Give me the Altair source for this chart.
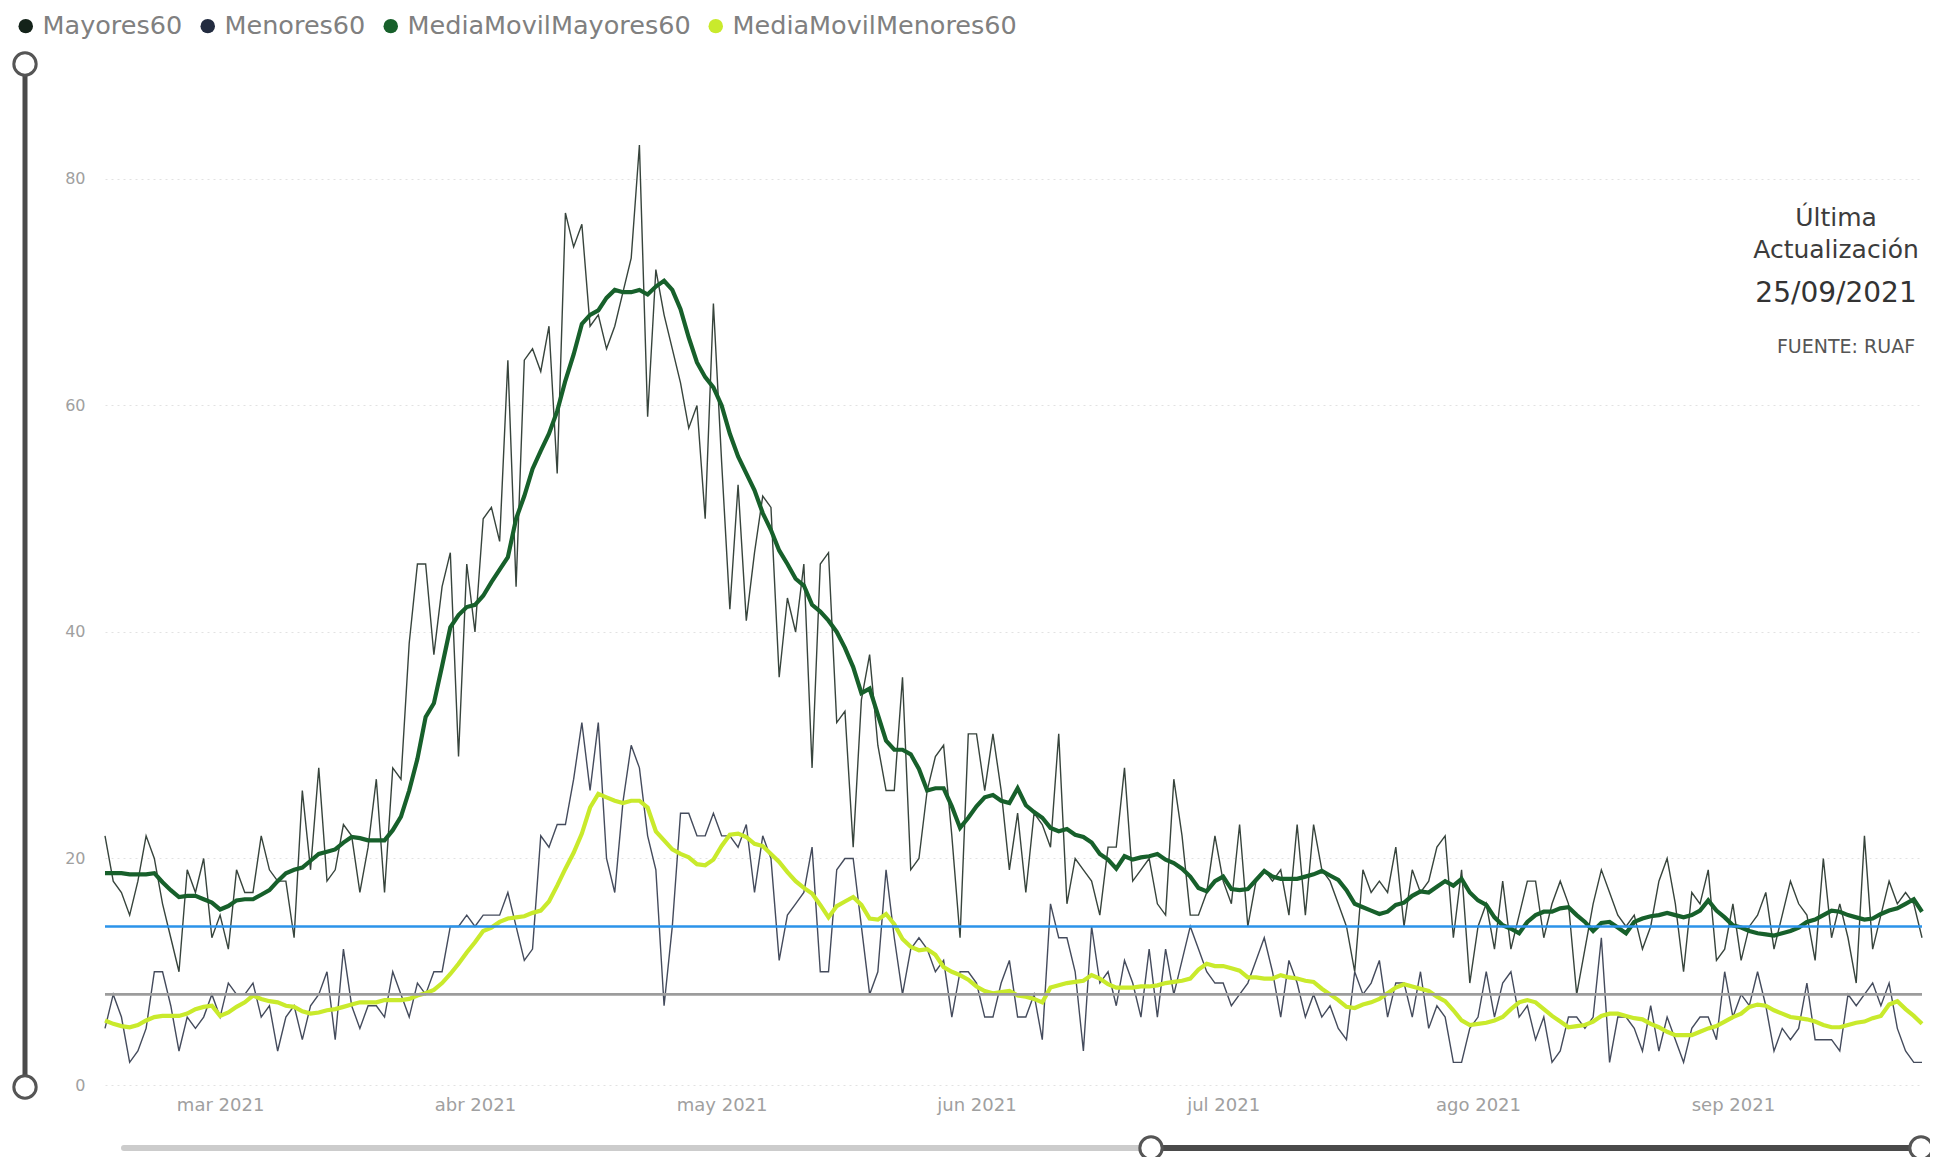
import altair as alt
import pandas as pd

# ---------------- data ----------------
start_date = "2021-02-15"

mayores60 = [22, 18, 17, 15, 18, 22, 20, 16, 13, 10,
             19, 17, 20, 13, 15, 12, 19, 17, 17, 22,
             19, 18, 18, 13, 26, 19, 28, 18, 19, 23,
             22, 17, 21, 27, 17, 28, 27, 39, 46, 46,
             38, 44, 47, 29, 46, 40, 50, 51, 48, 64,
             44, 64, 65, 63, 67, 54, 77, 74, 76, 67,
             68, 65, 67, 70, 73, 83, 59, 72, 68, 65,
             62, 58, 60, 50, 69, 55, 42, 53, 41, 47,
             52, 51, 36, 43, 40, 46, 28, 46, 47, 32,
             33, 21, 34, 38, 30, 26, 26, 36, 19, 20,
             26, 29, 30, 22, 13, 31, 31, 26, 31, 26,
             19, 24, 17, 24, 23, 21, 31, 16, 20, 19,
             18, 15, 21, 21, 28, 18, 19, 20, 16, 15,
             27, 22, 15, 15, 17, 22, 18, 16, 23, 14,
             18, 19, 18, 19, 15, 23, 15, 23, 19, 18,
             16, 14, 10, 19, 17, 18, 17, 21, 14, 19,
             17, 18, 21, 22, 13, 19, 9, 14, 16, 12,
             18, 12, 15, 18, 18, 13, 16, 18, 16, 8,
             12, 16, 19, 17, 15, 14, 15, 12, 14, 18,
             20, 16, 10, 17, 16, 19, 11, 12, 16, 11,
             14, 15, 17, 12, 15, 18, 16, 15, 11, 20,
             13, 16, 13, 9, 22, 12, 15, 18, 16, 17,
             16, 13]

menores60 = [5, 8, 6, 2, 3, 5, 10, 10, 7, 3,
             6, 5, 6, 8, 6, 9, 8, 8, 9, 6,
             7, 3, 6, 7, 4, 7, 8, 10, 4, 12,
             7, 5, 7, 7, 6, 10, 8, 6, 9, 8,
             10, 10, 14, 14, 15, 14, 15, 15, 15, 17,
             14, 11, 12, 22, 21, 23, 23, 27, 32, 26,
             32, 20, 17, 25, 30, 28, 22, 19, 7, 14,
             24, 24, 22, 22, 24, 22, 22, 21, 23, 17,
             22, 20, 11, 15, 16, 17, 21, 10, 10, 19,
             20, 20, 14, 8, 10, 19, 13, 8, 12, 13,
             12, 10, 11, 6, 10, 10, 9, 6, 6, 9,
             11, 6, 6, 8, 4, 16, 13, 13, 10, 3,
             14, 9, 10, 7, 11, 9, 6, 12, 6, 12,
             8, 11, 14, 12, 10, 9, 9, 7, 8, 9,
             11, 13, 10, 6, 11, 9, 6, 8, 6, 7,
             5, 4, 10, 8, 9, 11, 6, 9, 9, 6,
             10, 5, 7, 6, 2, 2, 5, 6, 10, 6,
             9, 10, 6, 7, 4, 6, 2, 3, 6, 6,
             5, 6, 13, 2, 6, 6, 5, 3, 7, 3,
             6, 4, 2, 5, 6, 6, 4, 10, 6, 8,
             7, 10, 7, 3, 5, 4, 5, 9, 4, 4,
             4, 3, 8, 7, 8, 9, 7, 9, 5, 3,
             2, 2]

media_movil_mayores60 = [18.7, 18.7, 18.7, 18.6, 18.6, 18.6, 18.7, 17.9, 17.2, 16.6,
                         16.7, 16.7, 16.4, 16.1, 15.5, 15.8, 16.3, 16.4, 16.4, 16.8,
                         17.2, 18.0, 18.7, 19.0, 19.2, 19.8, 20.4, 20.6, 20.8, 21.4,
                         21.9, 21.8, 21.6, 21.6, 21.6, 22.5, 23.7, 26.0, 28.8, 32.5,
                         33.7, 37.0, 40.4, 41.5, 42.2, 42.4, 43.2, 44.4, 45.5, 46.6,
                         50.0, 52.0, 54.4, 56.0, 57.5, 59.5, 62.2, 64.5, 67.2, 68.0,
                         68.4, 69.5, 70.2, 70.0, 70.0, 70.2, 69.8, 70.5, 71.0, 70.2,
                         68.5, 66.0, 63.8, 62.5, 61.6, 60.0, 57.5, 55.5, 54.0, 52.5,
                         50.5, 49.0, 47.2, 46.0, 44.7, 44.1, 42.4, 41.8, 41.0, 40.0,
                         38.6, 36.9, 34.6, 35.0, 32.7, 30.4, 29.6, 29.6, 29.2, 27.9,
                         26.0, 26.2, 26.2, 24.6, 22.7, 23.6, 24.6, 25.4, 25.6, 25.1,
                         24.9, 26.2, 24.7, 24.1, 23.6, 22.7, 22.4, 22.6, 22.1, 21.9,
                         21.4, 20.4, 19.9, 19.1, 20.2, 19.9, 20.1, 20.2, 20.4, 19.9,
                         19.6, 19.1, 18.4, 17.4, 17.1, 18.0, 18.4, 17.3, 17.2, 17.3,
                         18.1, 18.9, 18.4, 18.2, 18.2, 18.2, 18.4, 18.6, 18.9, 18.5,
                         18.1, 17.2, 16.0, 15.7, 15.4, 15.1, 15.3, 15.9, 16.1, 16.7,
                         17.1, 17.0, 17.5, 18.0, 17.6, 18.2, 17.0, 16.3, 15.9, 14.8,
                         14.1, 13.8, 13.4, 14.4, 15.0, 15.3, 15.3, 15.6, 15.7, 15.0,
                         14.4, 13.6, 14.3, 14.4, 13.9, 13.4, 14.4, 14.7, 14.9, 15.0,
                         15.2, 15.0, 14.8, 15.0, 15.4, 16.3, 15.4, 14.8, 14.1, 13.9,
                         13.6, 13.4, 13.3, 13.2, 13.4, 13.6, 13.9, 14.4, 14.6, 15.0,
                         15.4, 15.3, 15.0, 14.8, 14.6, 14.7, 15.1, 15.4, 15.6, 16.0,
                         16.4, 15.3]

media_movil_menores60 = [5.7, 5.4, 5.2, 5.1, 5.3, 5.7, 6.0, 6.1, 6.1, 6.1,
                         6.3, 6.7, 6.9, 7.0, 6.1, 6.4, 6.9, 7.3, 7.9, 7.6,
                         7.4, 7.3, 7.0, 6.9, 6.5, 6.3, 6.4, 6.6, 6.7, 6.9,
                         7.1, 7.3, 7.3, 7.3, 7.5, 7.5, 7.5, 7.6, 7.9, 8.1,
                         8.4, 9.0, 9.8, 10.7, 11.7, 12.6, 13.6, 13.9, 14.4, 14.7,
                         14.8, 14.9, 15.2, 15.4, 16.2, 17.6, 19.1, 20.5, 22.2, 24.5,
                         25.7, 25.4, 25.1, 24.9, 25.1, 25.1, 24.5, 22.4, 21.6, 20.8,
                         20.4, 20.1, 19.5, 19.4, 19.9, 21.1, 22.1, 22.2, 21.9, 21.3,
                         21.1, 20.4, 19.7, 18.8, 18.0, 17.4, 16.9, 15.9, 14.8, 15.8,
                         16.2, 16.6, 15.9, 14.7, 14.6, 15.1, 14.2, 12.9, 12.2, 11.9,
                         12.0, 11.5, 10.4, 10.0, 9.7, 9.3, 8.7, 8.3, 8.1, 8.2,
                         8.3, 7.9, 7.8, 7.6, 7.3, 8.6, 8.8, 9.0, 9.1, 9.2,
                         9.7, 9.4, 8.9, 8.6, 8.6, 8.6, 8.7, 8.7, 8.8, 9.0,
                         9.1, 9.2, 9.4, 10.2, 10.7, 10.5, 10.5, 10.3, 10.1, 9.5,
                         9.5, 9.4, 9.4, 9.7, 9.5, 9.4, 9.2, 9.1, 8.5, 8.0,
                         7.5, 6.9, 6.8, 7.1, 7.3, 7.6, 8.1, 8.6, 8.9, 8.7,
                         8.5, 8.3, 7.8, 7.4, 6.6, 5.7, 5.3, 5.4, 5.5, 5.7,
                         6.0, 6.7, 7.3, 7.5, 7.3, 6.7, 6.1, 5.6, 5.1, 5.2,
                         5.3, 5.6, 6.1, 6.3, 6.3, 6.1, 5.9, 5.8, 5.4, 5.1,
                         4.7, 4.4, 4.4, 4.4, 4.7, 5.0, 5.2, 5.6, 6.0, 6.3,
                         6.9, 7.1, 7.0, 6.6, 6.3, 6.0, 5.9, 5.8, 5.6, 5.3,
                         5.1, 5.1, 5.3, 5.5, 5.6, 5.9, 6.1, 7.1, 7.4, 6.7,
                         6.1, 5.4]

series_names = ["Mayores60", "Menores60", "MediaMovilMayores60", "MediaMovilMenores60"]
series_colors = ["#14231a", "#232c40", "#17602b", "#c9ea2c"]

ref_values = [14, 8]
ref_colors = ["#2b93ea", "#9c9c9c"]

month_ticks = ["2021-03-01", "2021-04-01", "2021-05-01", "2021-06-01",
               "2021-07-01", "2021-08-01", "2021-09-01"]
month_names_es = ["ene", "feb", "mar", "abr", "may", "jun",
                  "jul", "ago", "sep", "oct", "nov", "dic"]
y_ticks = [0, 20, 40, 60, 80]

update_title = "Última\nActualización"
update_date = "25/09/2021"
source_text = "FUENTE: RUAF"

# ---------------- build table ----------------
n = len(mayores60)
assert n == len(menores60) == len(media_movil_mayores60) == len(media_movil_menores60)
dates = pd.date_range(start_date, periods=n, freq="D")
date_str = dates.strftime("%Y-%m-%d")

frames = []
for name, vals in zip(series_names, [mayores60, menores60,
                                     media_movil_mayores60, media_movil_menores60]):
    frames.append(pd.DataFrame({"fecha": date_str, "serie": name, "valor": vals}))
df = pd.concat(frames, ignore_index=True)


def dt(ts):
    ts = pd.Timestamp(ts)
    return alt.DateTime(year=ts.year, month=ts.month, date=ts.day, utc=True)


W, H = 1817, 974
FONT = "DejaVu Sans"

month_arr = "[" + ",".join("'%s'" % m for m in month_names_es) + "]"

x_enc = alt.X(
    "fecha:T",
    scale=alt.Scale(type="utc", domain=[dt(dates[0]), dt(dates[-1])]),
    axis=alt.Axis(
        values=[dt(m) for m in month_ticks],
        labelExpr=month_arr + "[utcmonth(datum.value)] + ' ' + utcyear(datum.value)",
        title=None, grid=False, domain=False, ticks=False,
        labelFont=FONT, labelFontSize=18, labelColor="#a0a0a0",
        labelPadding=11, labelFlush=False,
    ),
)
y_enc = alt.Y(
    "valor:Q",
    scale=alt.Scale(domain=[0, 86], nice=False, zero=True),
    axis=alt.Axis(
        values=y_ticks, title=None, domain=False, ticks=False,
        labelFont=FONT, labelFontSize=16, labelColor="#a0a0a0", labelPadding=20,
        gridColor="#e2e2e2", gridDash=[2, 4], gridWidth=1,
    ),
)
color_enc = alt.Color(
    "serie:N",
    scale=alt.Scale(domain=series_names, range=series_colors),
    sort=series_names,
    legend=alt.Legend(
        title=None, orient="none", legendX=-92, legendY=-98,
        direction="horizontal", symbolType="circle", symbolSize=210,
        symbolStrokeWidth=0, symbolOpacity=1, labelLimit=600,
        labelFont=FONT, labelFontSize=25.5, labelColor="#808080",
        labelOffset=4, columnPadding=12,
    ),
)

base = alt.Chart(df)

# invisible filled circles: they give the legend its filled dots
legend_dots = base.mark_circle(size=0, opacity=1).encode(x=x_enc, y=y_enc, color=color_enc)

thin = base.transform_filter(
    alt.FieldOneOfPredicate(field="serie", oneOf=series_names[:2])
).mark_line(strokeWidth=1.4, opacity=0.85).encode(x=x_enc, y=y_enc, color=color_enc)

thick = base.transform_filter(
    alt.FieldOneOfPredicate(field="serie", oneOf=series_names[2:])
).mark_line(strokeWidth=4.2).encode(x=x_enc, y=y_enc, color=color_enc)

refs = alt.Chart(pd.DataFrame({"valor": ref_values, "c": ref_colors})).mark_rule(
    strokeWidth=2.6
).encode(y=alt.Y("valor:Q"), stroke=alt.Stroke("c:N", scale=None, legend=None))

one = pd.DataFrame({"k": [0]})

txt_title = alt.Chart(one).mark_text(
    font=FONT, fontSize=25, color="#3c3c3c", align="center", baseline="middle",
    lineBreak="\n", lineHeight=32,
).encode(x=alt.value(1731), y=alt.value(107), text=alt.value(update_title))

txt_date = alt.Chart(one).mark_text(
    font=FONT, fontSize=28, color="#333333", align="center", baseline="middle",
).encode(x=alt.value(1731), y=alt.value(183), text=alt.value(update_date))

txt_src = alt.Chart(one).mark_text(
    font=FONT, fontSize=19, color="#555555", align="center", baseline="middle",
).encode(x=alt.value(1741), y=alt.value(236), text=alt.value(source_text))

# zoom sliders (Power BI chrome)
vslider = alt.Chart(one).mark_rule(color="#4a4a4a", strokeWidth=5).encode(
    x=alt.value(-80), y=alt.value(-47), y2=alt.value(976))
hslider_light = alt.Chart(one).mark_rule(color="#cccccc", strokeWidth=6, strokeCap="round").encode(
    x=alt.value(19), x2=alt.value(1046), y=alt.value(1037))
hslider_dark = alt.Chart(one).mark_rule(color="#4a4a4a", strokeWidth=6).encode(
    x=alt.value(1046), x2=alt.value(1816), y=alt.value(1037))
knobs = []
for kx, ky in [(-80, -47), (-80, 976), (1046, 1037), (1816, 1037)]:
    knobs.append(alt.Chart(one).mark_point(
        shape="circle", size=500, filled=True, fill="white", stroke="#555555",
        strokeWidth=3, opacity=1,
    ).encode(x=alt.value(kx), y=alt.value(ky)))

chart = alt.layer(
    legend_dots, thin, thick, refs, txt_title, txt_date, txt_src,
    vslider, hslider_light, hslider_dark, *knobs,
).properties(
    width=W, height=H,
    autosize=alt.AutoSizeParams(type="none"),
    padding={"left": 97, "top": 103, "right": 8, "bottom": 72},
    background="white",
).configure_view(strokeWidth=0)

chart.save("out.html", embed_options={"renderer": "svg", "actions": False})
